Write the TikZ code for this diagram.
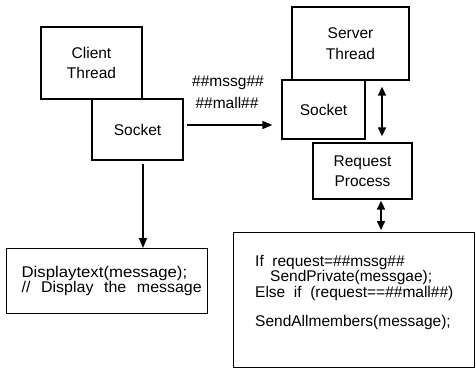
\documentclass[tikz,border=0pt]{standalone}
\usepackage{fontspec}
\setmainfont{Liberation Sans}
\usetikzlibrary{arrows.meta,calc}
\begin{document}
\begin{tikzpicture}[x=1pt,y=-1pt,
  box/.style={draw,line width=1.3pt,fill=white,align=center,inner sep=0pt,
    font=\fontsize{15.5}{20.5}\selectfont},
  lbl/.style={font=\fontsize{15.5}{20}\selectfont,inner sep=0pt,align=center},
  arr/.style={line width=1.6pt,-{Triangle[length=10pt,width=8pt]}},
  darr/.style={line width=1.6pt,{Triangle[length=9pt,width=8pt]}-{Triangle[length=9pt,width=8pt]}}]
\useasboundingbox (0,0) rectangle (476,369);
\node[box,minimum width=101pt,minimum height=72pt] (cthread) at (91.5,63) {Client\\Thread};
\node[box,minimum width=91pt,minimum height=61pt] (csock) at (137.5,129.5) {Socket};
\node[box,minimum width=117pt,minimum height=73pt] (sthread) at (350.5,43.5) {Server\\Thread};
\node[box,minimum width=83pt,minimum height=59pt] (ssock) at (323.5,109.5) {Socket};
\node[box,minimum width=99pt,minimum height=56pt] (req) at (362.5,171) {Request\\Process};
\node[box,minimum width=201pt,minimum height=65pt,align=left,anchor=north west,
  text width=201pt,font=\fontsize{15.5}{16}\selectfont] (disp) at (6,248)
  {\hspace*{15pt}\scalebox{1.08}[1]{Displaytext(message);}\\[-1.5pt]
   \hspace*{15pt}\scalebox{1.03}[1]{//~~Display~~the~~message}};
\node[box,minimum width=241pt,minimum height=135pt,anchor=north west] (code) at (233,232) {};
\node[lbl,align=left,anchor=north west,font=\fontsize{15.5}{15.3}\selectfont] (codetxt) at (255,255)
  {If~~request=\#\#mssg\#\#\\
   \hspace*{15pt}SendPrivate(messgae);\\
   Else~~if~~(request==\#\#mall\#\#)\\[14.5pt]
   SendAllmembers(message);};
\node[lbl] (m1) at (228,83) {\#\#mssg\#\#};
\node[lbl] (m2) at (227,103) {\#\#mall\#\#};
\coordinate (a1) at ([xshift=3pt,yshift=4.5pt]csock.east);
\draw[arr,shorten >=9pt] (a1) -- (a1 -| ssock.west);
\coordinate (a2) at ([xshift=5.5pt,yshift=-3pt]csock.south);
\draw[arr] (a2) -- (a2 |- disp.north);
\coordinate (a3) at ([xshift=19.5pt]req.north);
\draw[darr,shorten <=6pt,shorten >=2pt] (a3 |- sthread.south) -- ([yshift=4pt]a3);
\coordinate (a4) at ([xshift=18.5pt]req.south);
\draw[darr,shorten <=1pt,shorten >=2pt] (a4) -- (a4 |- code.north);
\end{tikzpicture}
\end{document}
